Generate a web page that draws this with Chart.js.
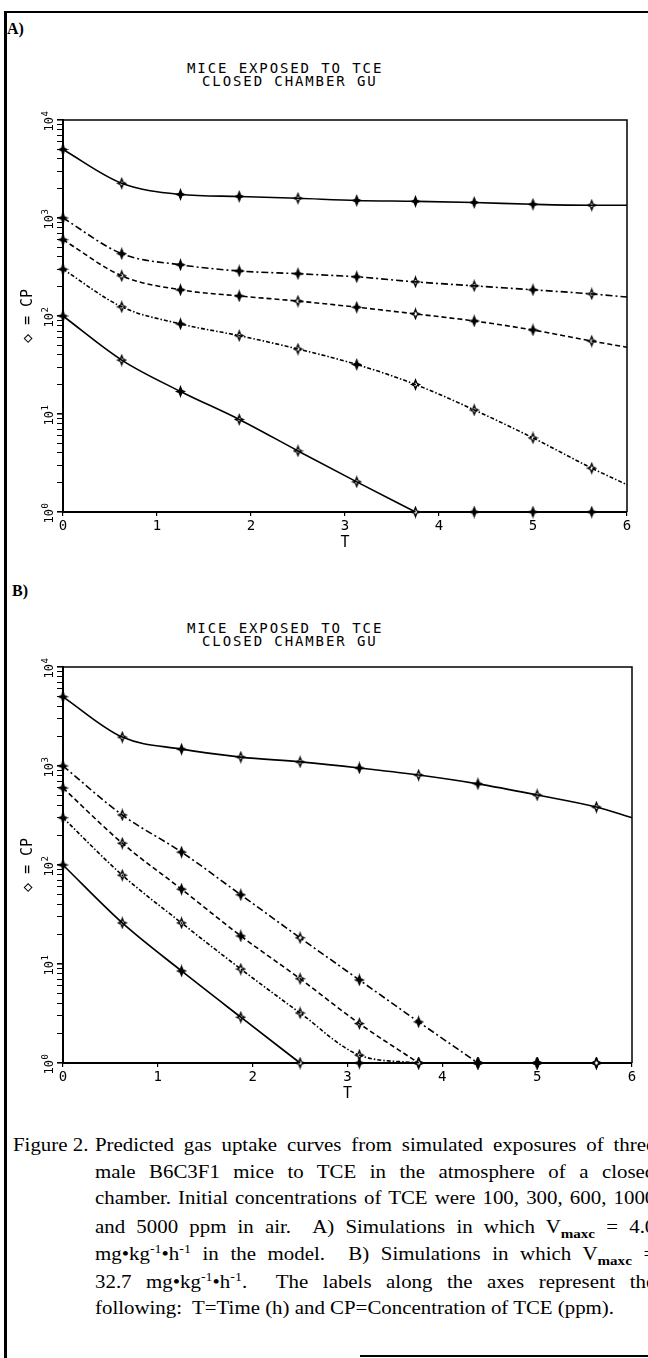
<!DOCTYPE html>
<html>
<head>
<meta charset="utf-8">
<script src="https://cdn.jsdelivr.net/npm/chart.js@4.4.1/dist/chart.umd.min.js"></script>
<style>
  body { margin: 0; background: #fff; }
  #page { position: relative; width: 648px; height: 1358px; overflow: hidden; background: #fff; color: #000; }
  .line { position: absolute; background: #000; }
  .tag { position: absolute; font: bold 16px "Liberation Serif"; line-height: 16px; }
  .ttl { position: absolute; font: 14px "DejaVu Sans Mono"; letter-spacing: 1.9px; line-height: 13px; white-space: pre; }
  .box { position: absolute; left: 0; width: 648px; height: 470px; }
  .cap { position: absolute; font: 18px "Liberation Serif"; line-height: 26px; white-space: nowrap;
         transform-origin: 0 0; transform: scaleX(1.16); }
  .cap.j { width: 483px; white-space: normal; text-align: justify; text-align-last: justify; }
  sup, sub { font-size: 12px; line-height: 0; }
  sub b { font-size: 13px; }
</style>
</head>
<body>
<div id="page">
  <div class="line" style="left:4px;top:11px;width:3px;height:1347px"></div>
  <div class="line" style="left:4px;top:11px;width:644px;height:2px"></div>
  <div class="line" style="left:360px;top:1355px;width:288px;height:2px"></div>

  <div class="tag" style="left:7px;top:21px">A)</div>
  <div class="ttl" style="left:187px;top:62px">MICE EXPOSED TO TCE</div>
  <div class="ttl" style="left:202px;top:75px">CLOSED CHAMBER GU</div>
  <div class="box" style="top:100px"><canvas id="chartA"></canvas></div>

  <div class="tag" style="left:12px;top:583px">B)</div>
  <div class="ttl" style="left:187px;top:622px">MICE EXPOSED TO TCE</div>
  <div class="ttl" style="left:202px;top:635px">CLOSED CHAMBER GU</div>
  <div class="box" style="top:650px"><canvas id="chartB"></canvas></div>

  <div class="cap" style="left:13px;top:1132px">Figure 2.</div>
  <div class="cap j" style="left:95px;top:1132px">Predicted gas uptake curves from simulated exposures of three</div>
  <div class="cap j" style="left:95px;top:1159px">male B6C3F1 mice to TCE in the atmosphere of a closed</div>
  <div class="cap j" style="left:95px;top:1185px">chamber. Initial concentrations of TCE were 100, 300, 600, 1000</div>
  <div class="cap j" style="left:95px;top:1214px">and 5000 ppm in air.&nbsp; A) Simulations in which V<sub><b>maxc</b></sub> = 4.0</div>
  <div class="cap j" style="left:95px;top:1241px">mg•kg<sup>-1</sup>•h<sup>-1</sup> in the model.&nbsp; B) Simulations in which V<sub><b>maxc</b></sub> =</div>
  <div class="cap j" style="left:95px;top:1269px">32.7 mg•kg<sup>-1</sup>•h<sup>-1</sup>.&nbsp; The labels along the axes represent the</div>
  <div class="cap" style="left:95px;top:1295px">following:&nbsp; T=Time (h) and CP=Concentration of TCE (ppm).</div>
</div>

<script>
// time points (h) at which the curves are read; markers on all but the last
const times = [0, 0.625, 1.25, 1.875, 2.5, 3.125, 3.75, 4.375, 5, 5.625, 6];
const concLabels = ["5000 ppm", "1000 ppm", "600 ppm", "300 ppm", "100 ppm"];

// A) Vmaxc = 4.0
const aCp5000 = [5000, 2260, 1740, 1660, 1590, 1510, 1480, 1440, 1380, 1350, 1350];
const aCp1000 = [1000, 432, 333, 288, 270, 251, 223, 203, 185, 168, 156];
const aCp600 = [600, 257, 185, 160, 142, 123, 105, 89, 72, 55.5, 48];
const aCp300 = [300, 124, 83, 63, 46, 32, 20, 11, 5.7, 2.8, 1.9];
const aCp100 = [100, 35.5, 17, 8.8, 4.2, 2.03, 1, 1, 1, 1, 1];

// B) Vmaxc = 32.7
const bCp5000 = [5000, 1960, 1480, 1230, 1100, 955, 810, 660, 510, 385, 300];
const bCp1000 = [1000, 320, 135, 50, 18.4, 6.9, 2.6, 1, 1, 1, 1];
const bCp600 = [600, 166, 57, 19.2, 7.1, 2.5, 1, 1, 1, 1, 1];
const bCp300 = [300, 79, 26, 8.9, 3.2, 1.2, 1, 1, 1, 1, 1];
const bCp100 = [100, 26, 8.5, 2.9, 1, 1, 1, 1, 1, 1, 1];

const yTickValues = [1, 2, 3, 4, 5, 6, 7, 8, 9, 10, 20, 30, 40, 50, 60, 70, 80, 90,
  100, 200, 300, 400, 500, 600, 700, 800, 900, 1000, 2000, 3000, 4000, 5000, 6000, 7000, 8000, 9000, 10000];
const yTickExponents = [0, 1, 2, 3, 4];
const xTickValues = [0, 1, 2, 3, 4, 5, 6];
const yFloor = 1;

// line styles per concentration
const dashes = [[], [7, 3, 2, 3], [5, 3], [4, 2, 1.5, 2], []];
// F = filled star marker, H = hollow star marker
const aMarks = ["FHFFHFFFFH", "FFFFFFHHFH", "FHFFHFHFFH", "FHFHHFHHHH", "FHFHHHHFFF"];
const bMarks = ["FHFHHFHFHH", "FHFFHFFFFH", "FHFFHHHFFH", "FHHHHHFFFH", "FHFHHFHFFH"];

function makeMarker(hollow) {
  const c = document.createElement("canvas");
  c.width = 11;
  c.height = 13;
  const g = c.getContext("2d");
  g.fillStyle = "#000";
  g.beginPath();
  g.moveTo(5.5, 0); g.lineTo(7.3, 4.7); g.lineTo(11, 6.5); g.lineTo(7.3, 8.3);
  g.lineTo(5.5, 13); g.lineTo(3.7, 8.3); g.lineTo(0, 6.5); g.lineTo(3.7, 4.7);
  g.closePath();
  g.fill();
  if (hollow) {
    g.fillStyle = "#fff";
    g.beginPath();
    g.moveTo(5.5, 4.6); g.lineTo(7.4, 6.5); g.lineTo(5.5, 8.4); g.lineTo(3.6, 6.5);
    g.closePath();
    g.fill();
  }
  return c;
}
const filledMark = makeMarker(false);
const hollowMark = makeMarker(true);

// the curve itself, stopped where it reaches the bottom of the axis
function lineSet(label, values, dash) {
  const hit = values.indexOf(yFloor);
  const n = hit < 0 ? values.length : hit + 1;
  return {
    label: label,
    data: times.slice(0, n).map((t, i) => ({ x: t, y: values[i] })),
    borderColor: "#000",
    borderWidth: 1.6,
    borderDash: dash,
    pointRadius: 0,
    cubicInterpolationMode: "monotone",
    fill: false,
    clip: false,
  };
}

// the plotting symbols along the same curve
function markSet(label, values, marks) {
  return {
    label: label + " symbols",
    data: times.slice(0, marks.length).map((t, i) => ({ x: t, y: values[i] })),
    showLine: false,
    pointStyle: marks.split("").map((m) => (m === "H" ? hollowMark : filledMark)),
    pointRadius: 5,
    clip: false,
  };
}

const frameAndLabels = {
  id: "frameAndLabels",
  afterDraw(chart) {
    const { ctx, chartArea: a, scales } = chart;
    ctx.save();
    ctx.strokeStyle = "#000";
    ctx.lineWidth = 1.5;
    ctx.beginPath();
    ctx.moveTo(a.left, a.top);
    ctx.lineTo(a.right, a.top);
    ctx.lineTo(a.right, a.bottom);
    ctx.stroke();
    ctx.fillStyle = "#000";
    ctx.textBaseline = "middle";
    yTickExponents.forEach((e) => {
      const py = scales.y.getPixelForValue(Math.pow(10, e));
      ctx.save();
      ctx.translate(a.left - 13, py);
      ctx.rotate(-Math.PI / 2);
      ctx.font = '12px "DejaVu Sans Mono"';
      ctx.textAlign = "right";
      ctx.fillText("10", 3, 0);
      ctx.font = '9px "DejaVu Sans Mono"';
      ctx.textAlign = "left";
      ctx.fillText(String(e), 3.5, -4.5);
      ctx.restore();
    });
    ctx.restore();
  },
};

function makeChart(id, series, marks, padding) {
  const font = { family: "DejaVu Sans Mono", size: 15 };
  const datasets = [];
  series.forEach((vals, k) => {
    datasets.push(lineSet(concLabels[k], vals, dashes[k]));
    datasets.push(markSet(concLabels[k], vals, marks[k]));
  });
  new Chart(document.getElementById(id), {
    type: "line",
    data: { datasets: datasets },
    options: {
      responsive: true,
      maintainAspectRatio: false,
      animation: false,
      events: [],
      layout: { padding: padding },
      plugins: { legend: { display: false }, tooltip: { enabled: false } },
      scales: {
        x: {
          type: "linear",
          min: 0,
          max: 6,
          afterBuildTicks: (s) => { s.ticks = xTickValues.map((v) => ({ value: v })); },
          afterFit: (s) => { s.height = 40; s.paddingLeft = 0; s.paddingRight = 0; },
          ticks: { color: "#000", font: { family: "DejaVu Sans Mono", size: 14 }, padding: 2, maxRotation: 0 },
          grid: { drawOnChartArea: false, tickLength: 4, color: "#000", lineWidth: 1.2 },
          border: { color: "#000", width: 2 },
          title: { display: true, text: "T", color: "#000", font: font, padding: 0 },
        },
        y: {
          type: "logarithmic",
          min: 1,
          max: 10000,
          afterBuildTicks: (s) => {
            s.ticks = yTickValues.map((v) => ({
              value: v,
              major: yTickExponents.some((e) => Math.pow(10, e) === v),
            }));
          },
          afterFit: (s) => { s.width = 63; s.paddingTop = 0; s.paddingBottom = 0; },
          ticks: { display: false },
          grid: {
            drawOnChartArea: false,
            tickLength: 6,
            color: "#000",
            lineWidth: (c) => (c.tick && c.tick.major ? 1.6 : 1),
          },
          border: { color: "#000", width: 2 },
          title: { display: true, text: "\u25C7 = CP", color: "#000", font: font, padding: { top: 19, bottom: 0 } },
        },
      },
    },
    plugins: [frameAndLabels],
  });
}

makeChart("chartA", [aCp5000, aCp1000, aCp600, aCp300, aCp100], aMarks,
  { left: 0, top: 20, right: 21, bottom: 18 });
makeChart("chartB", [bCp5000, bCp1000, bCp600, bCp300, bCp100], bMarks,
  { left: 0, top: 17, right: 16, bottom: 17 });
</script>
</body>
</html>
